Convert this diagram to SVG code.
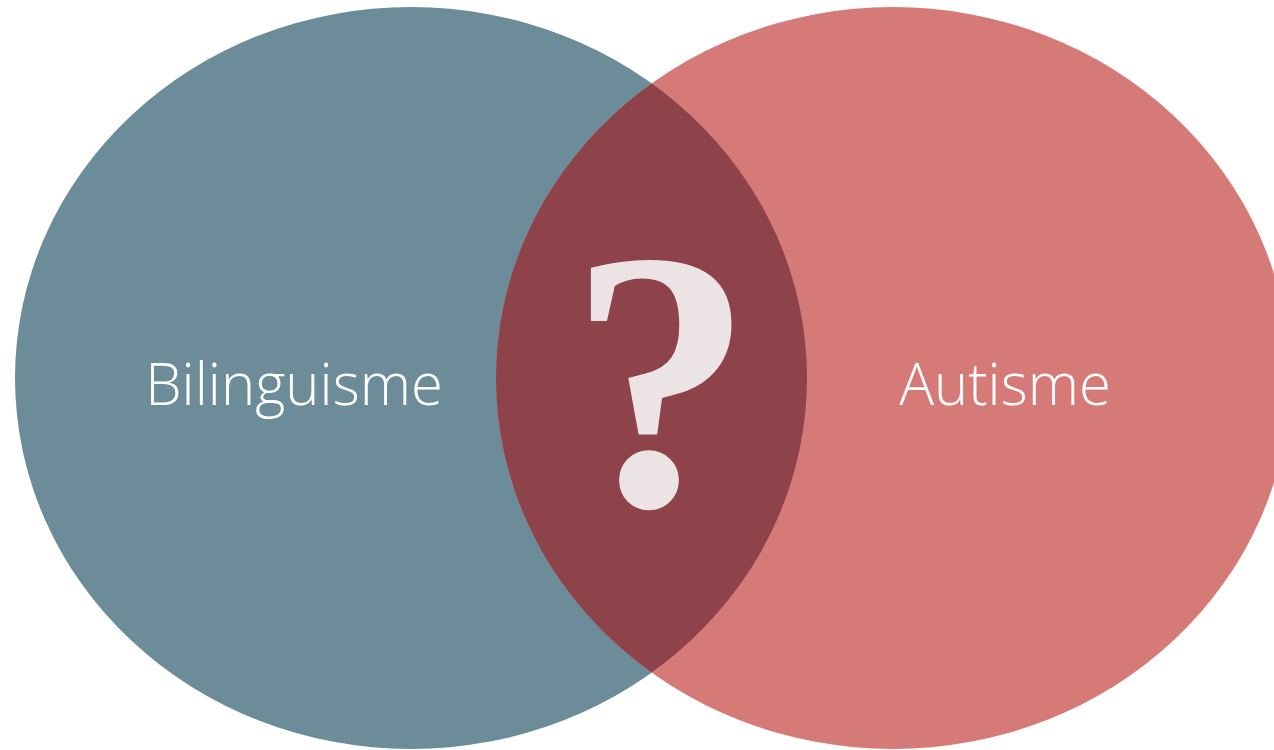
<svg xmlns="http://www.w3.org/2000/svg" width="1274" height="750" viewBox="0 0 1274 750">
  <style>
    .lbl { font-family: "Open Sans", "Liberation Sans", sans-serif; font-weight: 300; font-size: 58px; fill: #ffffff; }
    .q { font-family: "Liberation Serif", serif; font-weight: bold; font-size: 370px; fill: #ECE4E4; }
  </style>
  <defs>
    <clipPath id="clipLeft">
      <ellipse cx="411" cy="378" rx="396" ry="371"/>
    </clipPath>
  </defs>
  <rect width="1274" height="750" fill="#ffffff"/>
  <g id="bilinguisme">
    <ellipse cx="411" cy="378" rx="396" ry="371" fill="#6C8C99"/>
    <text class="lbl" x="294" y="405" text-anchor="middle">Bilinguisme</text>
  </g>
  <g id="autisme">
    <ellipse cx="893" cy="378" rx="397" ry="371" fill="#D67A78"/>
    <text class="lbl" x="1005" y="405" text-anchor="middle">Autisme</text>
  </g>
  <g id="overlap">
    <ellipse cx="893" cy="378" rx="397" ry="371" fill="#8E4249" clip-path="url(#clipLeft)"/>
    <text class="q" x="661" y="505" text-anchor="middle">?</text>
  </g>
  <g id="connectors"/>
</svg>
